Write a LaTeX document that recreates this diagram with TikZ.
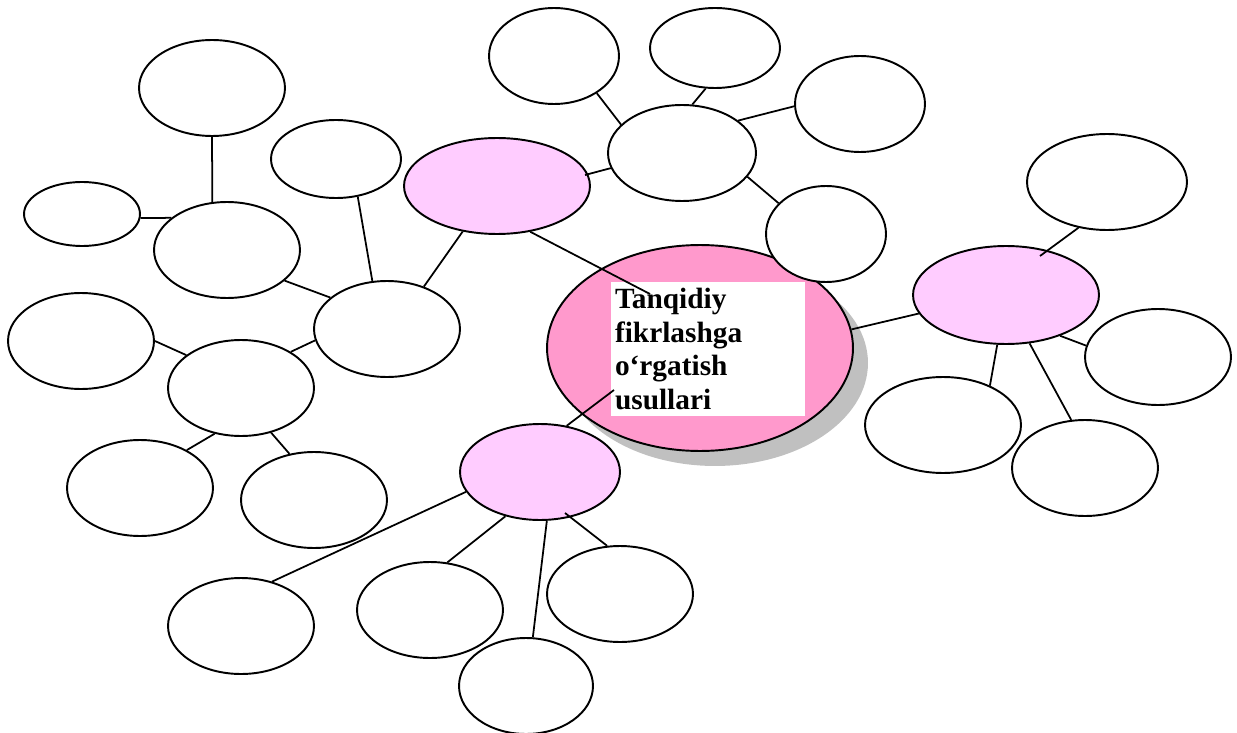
\documentclass[tikz,border=0pt]{standalone}
\usepackage{fontspec}
\setmainfont{Liberation Serif}
\usetikzlibrary{shapes.geometric, shadows}
\definecolor{mainpink}{HTML}{FF99CC}
\definecolor{subpink}{HTML}{FFCCFF}
\definecolor{shadowgray}{HTML}{C0C0C0}
\tikzset{
  bubble/.style={ellipse, draw, fill=white, line width=1.1pt, inner sep=0pt, minimum width=2.92cm, minimum height=1.92cm},
  method/.style={bubble, fill=subpink, minimum width=3.72cm},
  link/.style={line width=1pt},
}

\begin{document}
\begin{tikzpicture}[x=0.02cm, y=-0.02cm]
  \useasboundingbox (0,0) rectangle (1237,733);

  % Central topic
  \node[bubble, fill=mainpink, minimum width=6.12cm, minimum height=4.12cm,
        drop shadow={shadow xshift=0.3cm, shadow yshift=-0.3cm, fill=shadowgray, opacity=1}] (main) at (700,348) {};
  \node[fill=white, inner xsep=0.08cm, inner ysep=3.5pt, text width=3.72cm, align=left,
        font=\fontsize{16.7}{19.3}\selectfont\bfseries] (title) at (708,349)
        {Tanqidiy\\fikrlashga\\o‘rgatish\\usullari};

  % Methods
  \node[method] (methA) at (497,186) {};
  \node[method, minimum height=1.96cm] (methB) at (1006,295) {};
  \node[method, minimum width=3.2cm] (methC) at (540,472) {};

  % Left cluster
  \node[bubble] (l1) at (212,88) {};
  \node[bubble, minimum width=2.6cm, minimum height=1.56cm] (l2) at (336,159) {};
  \node[bubble, minimum width=2.32cm, minimum height=1.28cm] (l3) at (82,214) {};
  \node[bubble] (l4) at (227,250) {};
  \node[bubble] (l5) at (387,329) {};
  \node[bubble] (l6) at (81,341) {};
  \node[bubble] (l7) at (241,388) {};
  \node[bubble] (l8) at (140,488) {};
  \node[bubble] (l9) at (314,500) {};

  % Top cluster
  \node[bubble, minimum width=2.6cm] (t1) at (554,56) {};
  \node[bubble, minimum width=2.6cm, minimum height=1.6cm] (t2) at (715,48) {};
  \node[bubble, minimum width=2.6cm] (t3) at (860,104) {};
  \node[bubble, minimum width=2.96cm] (t4) at (682,153) {};
  \node[bubble, minimum width=2.4cm] (t5) at (826,234) {};

  % Right cluster
  \node[bubble, minimum width=3.2cm] (r1) at (1107,182) {};
  \node[bubble] (r2) at (1158,357) {};
  \node[bubble, minimum width=3.12cm] (r3) at (943,425) {};
  \node[bubble] (r4) at (1085,468) {};

  % Bottom cluster
  \node[bubble] (b1) at (241,626) {};
  \node[bubble] (b2) at (430,610) {};
  \node[bubble] (b3) at (620,594) {};
  \node[bubble, minimum width=2.68cm] (b4) at (526,686) {};

  % Links
  \draw[link] (l1.south) -- (l4.107);
  \draw[link] (l3.-4) -- (l4.150);
  \draw[link] (l4.-28) -- (l5.151);
  \draw[link] (l2.-60) -- (l5.107);
  \draw[link] (l5.49) -- (methA.-127);
  \draw[link] (l5.-171) -- (l7.36);
  \draw[link] (l6.east) -- (l7.149);
  \draw[link] (l7.-120) -- (l8.39);
  \draw[link] (l7.-56) -- (l9.118);
  \draw[link] (methA.-54) -- ([shift={(-58,-55)}]title.center);
  \draw[link] ([shift={(88,-11)}]methA.center) -- (t4.-168);
  \draw[link] (t1.-41) -- (t4.155);
  \draw[link] (t2.-103) -- (t4.78);
  \draw[link] (t4.30) -- (t3.-178);
  \draw[link] (t4.-20) -- (t5.147);
  \draw[link] (main.7) -- (methB.-168);
  \draw[link] ([shift={(34,-39)}]methB.center) -- (r1.-122);
  \draw[link] (methB.-37) -- (r2.171);
  \draw[link] (methB.-100) -- (r3.40);
  \draw[link] (methB.-64) -- (r4.106);
  \draw[link] ([shift={(-94,41)}]title.center) -- (methC.60);
  \draw[link] (methC.-165) -- (b1.55);
  \draw[link] (methC.-128) -- (b2.70);
  \draw[link] (methC.-82) -- (b4.82);
  \draw[link] ([shift={(25,41)}]methC.center) -- (b3.105);

\end{tikzpicture}
\end{document}
